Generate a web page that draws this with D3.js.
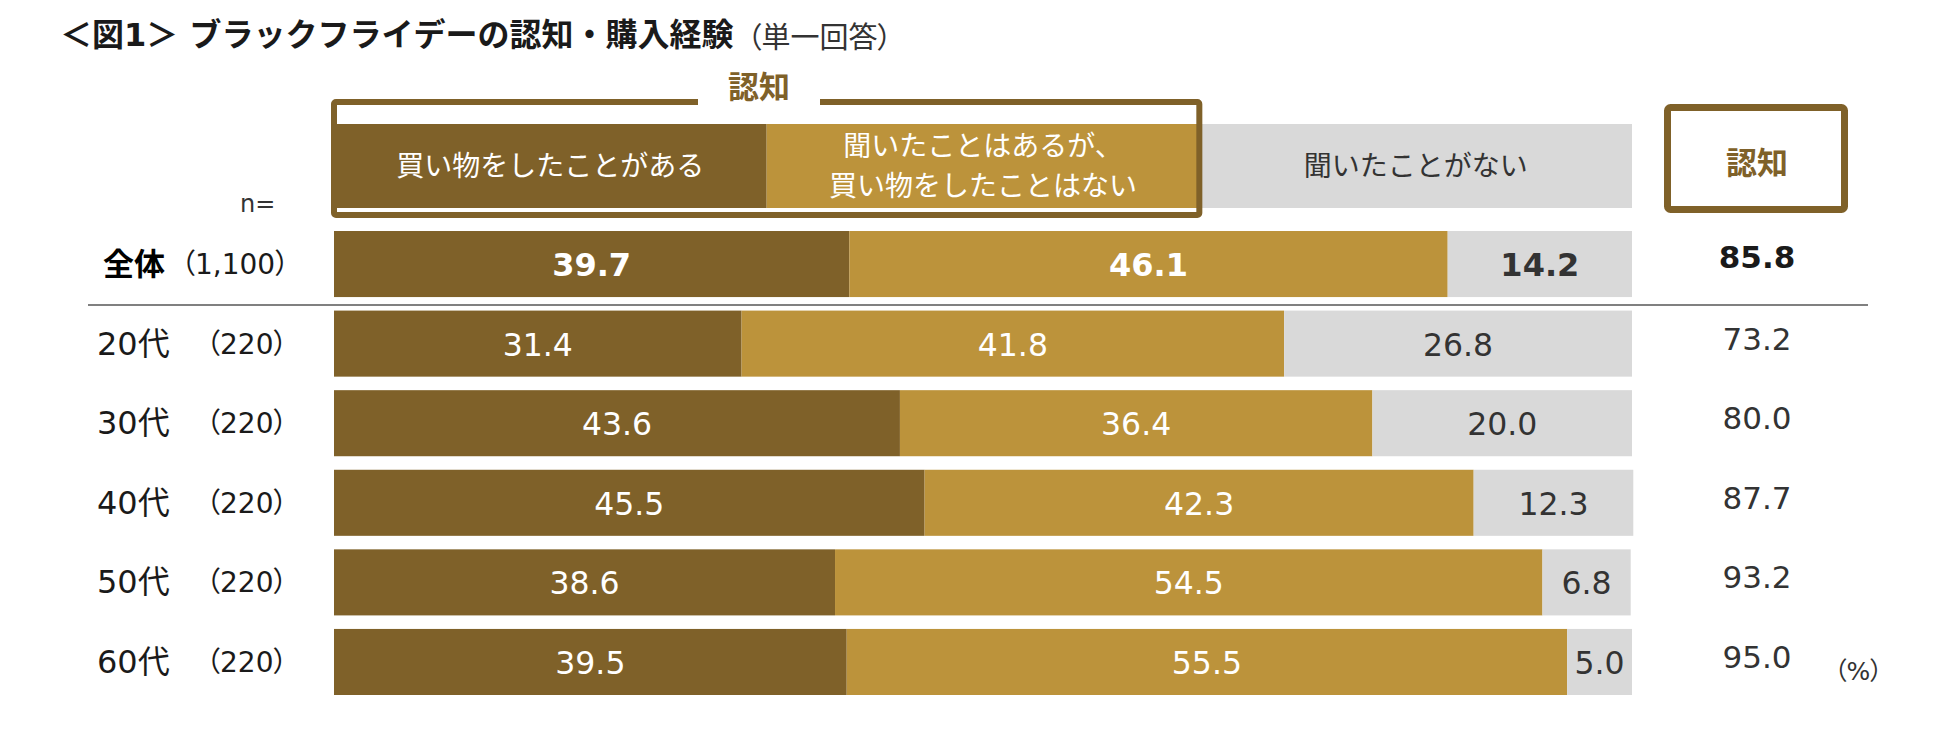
<!DOCTYPE html>
<html>
<head>
<meta charset="utf-8">
<script src="https://cdn.jsdelivr.net/npm/d3@7"></script>
<style>
  body { margin: 0; background: #fff; }
  text { font-family: "DejaVu Sans", "Noto Sans CJK JP", sans-serif; }
</style>
</head>
<body>
<svg></svg>
<script>
const width = 1950;
const height = 739;

// data
const rows = ["全体", "20代", "30代", "40代", "50代", "60代"];
const nLabels = ["（1,100）", "（220）", "（220）", "（220）", "（220）", "（220）"];
const purchased = [39.7, 31.4, 43.6, 45.5, 38.6, 39.5];
const heardOnly = [46.1, 41.8, 36.4, 42.3, 54.5, 55.5];
const neverHeard = [14.2, 26.8, 20.0, 12.3, 6.8, 5.0];
const awareness = [85.8, 73.2, 80.0, 87.7, 93.2, 95.0];
const seriesNames = [["買い物をしたことがある"], ["聞いたことはあるが、", "買い物をしたことはない"], ["聞いたことがない"]];

const colors = {
  dark: "#7f6129",
  gold: "#bc933b",
  grey: "#d9d9d9",
  text: "#333333",
  line: "#808080",
};
const segColors = [colors.dark, colors.gold, colors.grey];
const segText = ["#ffffff", "#ffffff", colors.text];

const svg = d3.select("svg").attr("width", width).attr("height", height);

const x = d3.scaleLinear().domain([0, 100]).range([334, 1632]);
const y = d3.scaleBand().domain(rows).range([231, 695]).paddingInner(0.17);
const hx = d3.scaleBand().domain([0, 1, 2]).range([334, 1632]);

// タイトル
svg.append("text")
  .attr("x", 60).attr("y", 46)
  .style("font-size", "32px").style("font-weight", "bold")
  .attr("fill", "#1a1a1a")
  .text("＜図1＞ ブラックフライデーの認知・購入経験");
svg.append("text")
  .attr("x", 747).attr("y", 48)
  .style("font-size", "29px")
  .style("font-feature-settings", "'palt'")
  .attr("fill", "#333")
  .text("（単一回答）");

// ヘッダー
const headTop = 124, headH = 84;
seriesNames.forEach((name, i) => {
  svg.append("rect")
    .attr("x", hx(i)).attr("y", headTop)
    .attr("width", hx.bandwidth()).attr("height", headH)
    .attr("fill", segColors[i]);
  const cy = headTop + headH / 2;
  name.forEach((line, j) => {
    const off = (j - (name.length - 1) / 2) * 40;
    svg.append("text")
      .attr("x", hx(i) + hx.bandwidth() / 2)
      .attr("y", cy + off + 10)
      .attr("text-anchor", "middle")
      .style("font-size", "28px")
      .attr("fill", segText[i])
      .text(line);
  });
});

// 認知の枠
const boxX = hx(0), boxW = hx(1) + hx.bandwidth() - hx(0);
svg.append("rect")
  .attr("x", boxX).attr("y", 102)
  .attr("width", boxW).attr("height", 113)
  .attr("rx", 2)
  .attr("fill", "none")
  .attr("stroke", colors.dark)
  .attr("stroke-width", 6);
svg.append("rect")
  .attr("x", 698).attr("y", 95)
  .attr("width", 122).attr("height", 16)
  .attr("fill", "#fff");
svg.append("text")
  .attr("x", 759).attr("y", 98)
  .attr("text-anchor", "middle")
  .style("font-size", "31px").style("font-weight", "bold")
  .attr("fill", colors.dark)
  .text("認知");

// 右側の認知ボックス
svg.append("rect")
  .attr("x", 1667.5).attr("y", 107.5)
  .attr("width", 177).attr("height", 102)
  .attr("rx", 3)
  .attr("fill", "none")
  .attr("stroke", colors.dark)
  .attr("stroke-width", 7);
svg.append("text")
  .attr("x", 1757).attr("y", 174)
  .attr("text-anchor", "middle")
  .style("font-size", "31px").style("font-weight", "bold")
  .attr("fill", colors.dark)
  .text("認知");

// n=
svg.append("text")
  .attr("x", 240).attr("y", 212)
  .style("font-size", "24px")
  .attr("fill", "#333")
  .text("n=");

// 区切り線
svg.append("line")
  .attr("x1", 88).attr("x2", 1868)
  .attr("y1", 305).attr("y2", 305)
  .attr("stroke", colors.line)
  .attr("stroke-width", 2);

// 積み上げ棒
rows.forEach((row, r) => {
  const vals = [purchased[r], heardOnly[r], neverHeard[r]];
  const bold = r === 0;
  const cy = y(row) + y.bandwidth() / 2;
  let cum = 0;
  vals.forEach((v, i) => {
    svg.append("rect")
      .attr("x", x(cum)).attr("y", y(row))
      .attr("width", x(cum + v) - x(cum)).attr("height", y.bandwidth())
      .attr("fill", segColors[i]);
    svg.append("text")
      .attr("x", x(cum + v / 2)).attr("y", cy + 12)
      .attr("text-anchor", "middle")
      .style("font-size", bold ? "32px" : "31.5px")
      .style("font-weight", bold ? "bold" : "normal")
      .attr("fill", segText[i])
      .text(v.toFixed(1));
    cum += v;
  });

  // 行ラベル
  svg.append("text")
    .attr("x", bold ? 103 : 97).attr("y", cy + 11)
    .style("font-size", bold ? "31px" : "32px")
    .style("font-weight", bold ? "bold" : "normal")
    .attr("fill", bold ? "#000" : "#1a1a1a")
    .text(row);
  svg.append("text")
    .attr("x", bold ? 181 : 206).attr("y", cy + 10)
    .style("font-size", "28px")
    .style("font-feature-settings", "'palt'")
    .attr("fill", "#1a1a1a")
    .text(nLabels[r]);

  // 認知 値
  svg.append("text")
    .attr("x", 1757).attr("y", bold ? cy + 4 : cy + 6)
    .attr("text-anchor", "middle")
    .style("font-size", "31px")
    .style("font-weight", bold ? "bold" : "normal")
    .attr("fill", bold ? "#1a1a1a" : colors.text)
    .text(awareness[r].toFixed(1));
});

// (%)
svg.append("text")
  .attr("x", 1834).attr("y", y(rows[rows.length - 1]) + y.bandwidth() / 2 + 18)
  .style("font-size", "25px")
  .style("font-feature-settings", "'palt'")
  .attr("fill", colors.text)
  .text("（%）");
</script>
</body>
</html>
